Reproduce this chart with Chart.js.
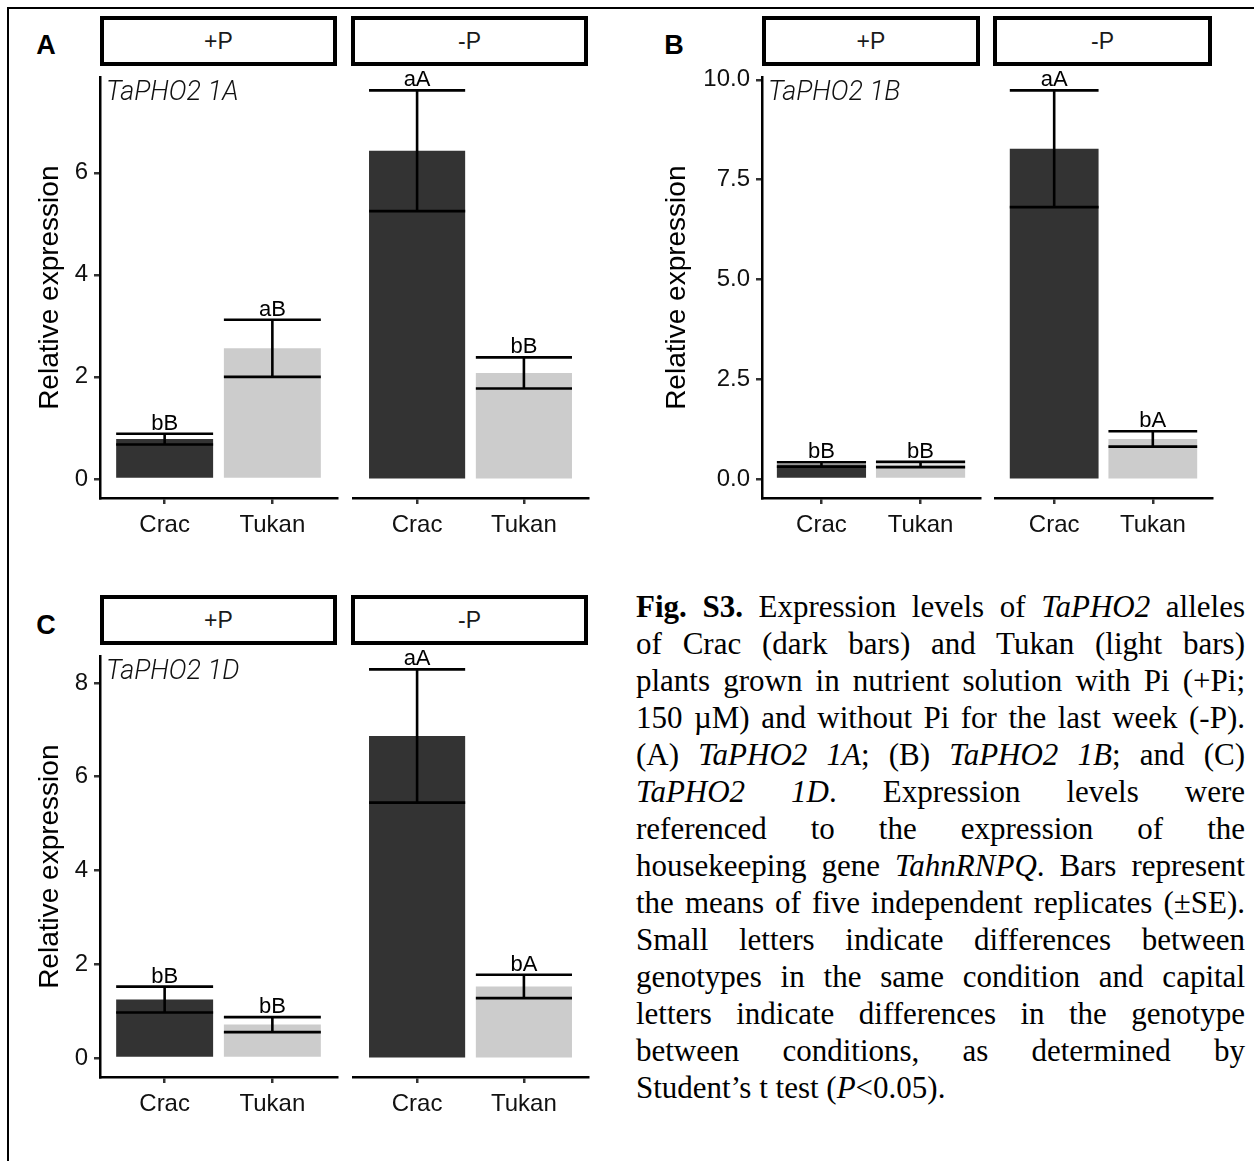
<!DOCTYPE html>
<html><head><meta charset="utf-8">
<script src="https://cdn.jsdelivr.net/npm/chart.js@4.4.0/dist/chart.umd.min.js"></script>
<style>
html,body{margin:0;padding:0;background:#fff;}
body{width:1254px;height:1161px;position:relative;overflow:hidden;font-family:'Liberation Sans',Arial,sans-serif;}
canvas{position:absolute;}
.strip{position:absolute;box-sizing:border-box;border:4px solid #000;background:#fff;display:flex;align-items:center;justify-content:center;font-size:23px;color:#1a1a1a;}
.plabel{position:absolute;font-weight:bold;font-size:27px;line-height:1;transform:translate(-50%,-50%);}
#frame{position:absolute;left:7px;top:7px;width:1300px;height:1300px;border-top:2px solid #000;border-left:2px solid #000;}
#caption{position:absolute;left:636px;top:588px;width:609px;font-family:'Liberation Serif','Times New Roman',serif;font-size:31px;line-height:37px;color:#000;}
#caption div{text-align:justify;text-align-last:justify;white-space:normal;}
#caption div.last{text-align-last:left;}
</style></head><body>
<div id="frame"></div>
<div id="caption">
<div><b>Fig. S3.</b> Expression levels of <i>TaPHO2</i> alleles</div>
<div>of Crac (dark bars) and Tukan (light bars)</div>
<div>plants grown in nutrient solution with Pi (+Pi;</div>
<div>150 µM) and without Pi for the last week (-P).</div>
<div>(A) <i>TaPHO2 1A</i>; (B) <i>TaPHO2 1B</i>; and (C)</div>
<div><i>TaPHO2 1D</i>. Expression levels were</div>
<div>referenced to the expression of the</div>
<div>housekeeping gene <i>TahnRNPQ</i>. Bars represent</div>
<div>the means of five independent replicates (±SE).</div>
<div>Small letters indicate differences between</div>
<div>genotypes in the same condition and capital</div>
<div>letters indicate differences in the genotype</div>
<div>between conditions, as determined by</div>
<div class="last">Student’s t test (<i>P</i>&lt;0.05).</div>
</div>
<script>
// ---- data (order: +P Crac, +P Tukan, -P Crac, -P Tukan) ----
const genotypes = ['Crac', 'Tukan'];
const conditions = ['+P', '-P'];
const panelLetters = ['A', 'B', 'C'];
const genes = ['TaPHO2 1A', 'TaPHO2 1B', 'TaPHO2 1D'];
const meansA = [0.78, 2.56, 6.33, 2.04];
const seA = [0.105, 0.56, 1.165, 0.30];
const lettersA = ['bB', 'aB', 'aA', 'bB'];
const meansB = [0.36, 0.36, 8.14, 0.98];
const seB = [0.055, 0.065, 1.44, 0.19];
const lettersB = ['bB', 'bB', 'aA', 'bA'];
const meansC = [1.245, 0.71, 6.76, 1.495];
const seC = [0.275, 0.16, 1.40, 0.245];
const lettersC = ['bB', 'bB', 'aA', 'bA'];
const ticksA = [0, 2, 4, 6];
const ticksB = [0, 2.5, 5, 7.5, 10];
const ticksC = [0, 2, 4, 6, 8];
const barColors = ['#333333', '#cccccc'];

// ---- layout ----
const layouts = [
  {letterX: 46, letterY: 45, stripTop: 16, stripH: 50, plotTop: 71, plotH: 427, facets: [[100, 337], [351, 588]], canvasLeft: 10, titleX: 50},
  {letterX: 674, letterY: 45, stripTop: 16, stripH: 50, plotTop: 71, plotH: 427, facets: [[762, 980], [993, 1212]], canvasLeft: 640, titleX: 677},
  {letterX: 46, letterY: 625, stripTop: 595, stripH: 50, plotTop: 650, plotH: 427, facets: [[100, 337], [351, 588]], canvasLeft: 10, titleX: 50}
];
const FONT = "'Liberation Sans', Arial, sans-serif";
Chart.defaults.font.family = FONT;

const errPlugin = {
  id: 'errLetters',
  afterDatasetsDraw(chart) {
    const {ctx, scales: {y}} = chart;
    const ds = chart.data.datasets[0];
    const meta = chart.getDatasetMeta(0);
    ctx.save();
    ctx.strokeStyle = '#000';
    ctx.lineWidth = 2.6;
    ds.data.forEach((d, i) => {
      const bar = meta.data[i];
      const cx = bar.x, hw = bar.width / 2;
      const yt = y.getPixelForValue(d.y + ds.se[i]);
      const yb = y.getPixelForValue(d.y - ds.se[i]);
      ctx.beginPath();
      ctx.moveTo(cx - hw, yt); ctx.lineTo(cx + hw, yt);
      ctx.moveTo(cx - hw, yb); ctx.lineTo(cx + hw, yb);
      ctx.moveTo(cx, yt); ctx.lineTo(cx, yb);
      ctx.stroke();
      ctx.fillStyle = '#000';
      ctx.font = '22px ' + FONT;
      ctx.textAlign = 'center';
      ctx.textBaseline = 'alphabetic';
      ctx.fillText(ds.letters[i], cx, yt - 4);
    });
    ctx.restore();
  }
};

function makeFacet(p, f, means, ses, letters, yTicks, fmt, gene) {
  const [x0, x1] = p.facets[f];
  const showY = f === 0;
  const cLeft = showY ? p.canvasLeft : x0 - 2;
  const padTop = 14;
  const cTop = p.plotTop - padTop;
  const xAxisH = 62;
  const W = x1 + 2 - cLeft;
  const H = padTop + p.plotH + xAxisH;
  const canvas = document.createElement('canvas');
  canvas.width = W; canvas.height = H;
  canvas.style.left = cLeft + 'px'; canvas.style.top = cTop + 'px';
  canvas.style.width = W + 'px'; canvas.style.height = H + 'px';
  document.body.appendChild(canvas);
  const idx = [f * 2, f * 2 + 1];
  const D = Math.max(...means.map((v, i) => v + ses[i]));
  const genePlugin = {
    id: 'gene',
    afterDraw(chart) {
      if (!gene) return;
      const {ctx, chartArea} = chart;
      ctx.save();
      ctx.fillStyle = '#111';
      ctx.font = 'italic 300 27px Roboto, ' + FONT;
      ctx.textAlign = 'left';
      ctx.textBaseline = 'alphabetic';
      ctx.fillText(gene, chartArea.left + 6, chartArea.top + 23);
      ctx.restore();
    }
  };
  new Chart(canvas, {
    type: 'bar',
    data: {datasets: [{
      data: idx.map((k, i) => ({x: i + 1, y: means[k]})),
      se: idx.map(k => ses[k]),
      letters: idx.map(k => letters[k]),
      backgroundColor: barColors, borderWidth: 0, barPercentage: 0.9, categoryPercentage: 1
    }]},
    options: {
      responsive: false, animation: false, devicePixelRatio: 1,
      layout: {padding: {left: showY ? 0 : 2, right: 2, top: padTop, bottom: 0}},
      plugins: {legend: {display: false}, tooltip: {enabled: false}},
      scales: {
        x: {type: 'linear', min: 0.4, max: 2.6, offset: false,
          afterBuildTicks: ax => { ax.ticks = genotypes.map((g, i) => ({value: i + 1})); },
          afterFit: ax => { ax.height = xAxisH; },
          ticks: {callback: v => genotypes[v - 1], font: {size: 24}, color: '#111', padding: 7, maxRotation: 0, autoSkip: false},
          grid: {display: true, offset: false, drawOnChartArea: false, drawTicks: true, tickLength: 6, color: '#333', lineWidth: 2.5},
          border: {display: true, color: '#000', width: 2.5}},
        y: {display: showY, min: -0.05 * D, max: 1.05 * D,
          afterBuildTicks: ax => { ax.ticks = yTicks.map(v => ({value: v})); },
          afterFit: ax => { ax.width = x0 - cLeft; },
          ticks: {callback: fmt, font: {size: 24}, color: '#111', padding: 6},
          grid: {drawOnChartArea: false, drawTicks: true, tickLength: 6, color: '#333', lineWidth: 2.5},
          border: {display: true, color: '#000', width: 2.5},
          title: {display: true, text: 'Relative expression', font: {size: 28}, color: '#000',
            padding: {top: p.titleX - cLeft - 16.8, bottom: 0}}}
      }
    },
    plugins: [errPlugin, genePlugin]
  });
}

function makePanel(k, means, ses, letters, yTicks, fmt) {
  const p = layouts[k];
  const lab = document.createElement('div');
  lab.className = 'plabel';
  lab.textContent = panelLetters[k];
  lab.style.left = p.letterX + 'px'; lab.style.top = p.letterY + 'px';
  document.body.appendChild(lab);
  p.facets.forEach((fx, f) => {
    const s = document.createElement('div');
    s.className = 'strip';
    s.textContent = conditions[f];
    s.style.left = fx[0] + 'px'; s.style.width = (fx[1] - fx[0]) + 'px';
    s.style.top = p.stripTop + 'px'; s.style.height = p.stripH + 'px';
    document.body.appendChild(s);
    makeFacet(p, f, means, ses, letters, yTicks, fmt, f === 0 ? genes[k] : null);
  });
}

const intFmt = v => String(v);
const oneDec = v => v.toFixed(1);
makePanel(0, meansA, seA, lettersA, ticksA, intFmt);
makePanel(1, meansB, seB, lettersB, ticksB, oneDec);
makePanel(2, meansC, seC, lettersC, ticksC, intFmt);
</script>
</body></html>
